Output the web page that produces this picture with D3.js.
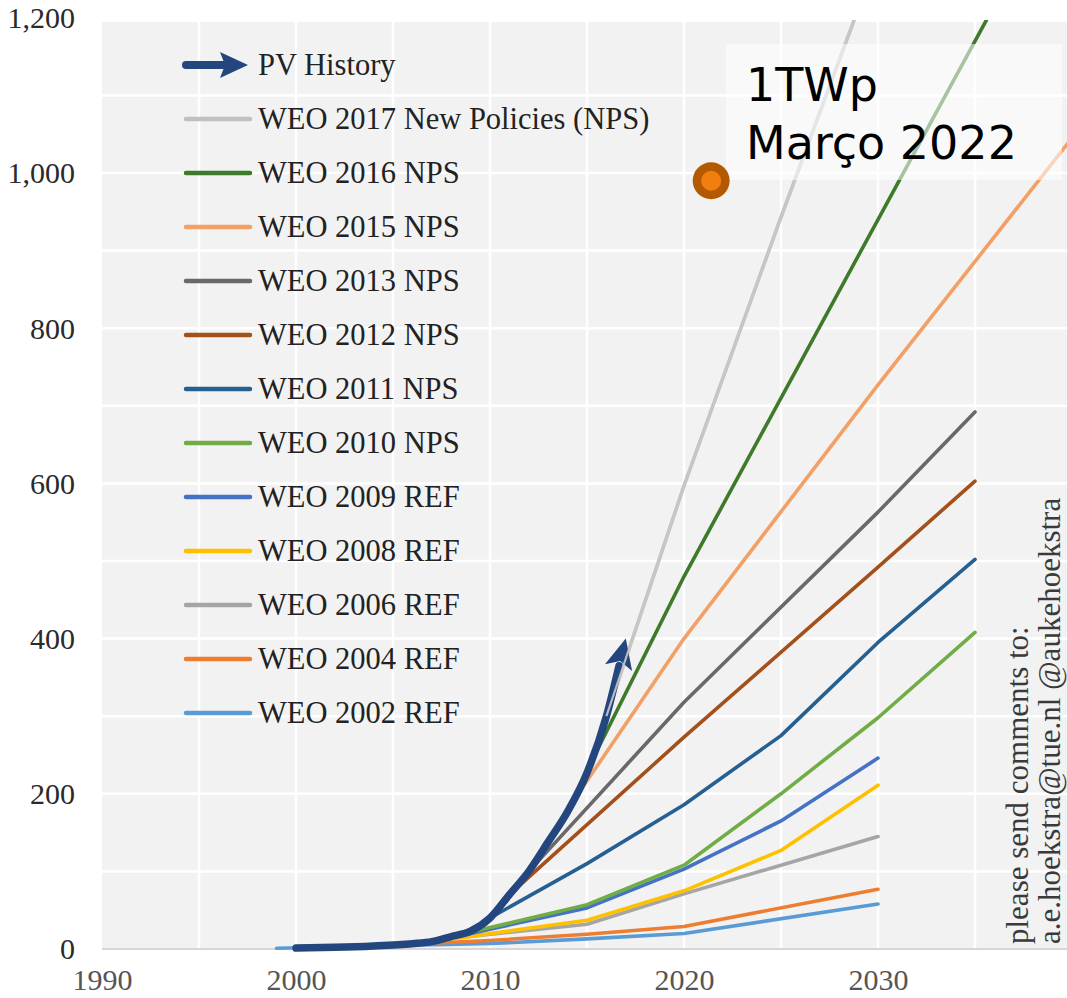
<!DOCTYPE html>
<html>
<head>
<meta charset="utf-8">
<script src="https://cdn.jsdelivr.net/npm/d3@7"></script>
<style>
  body { margin: 0; background: #fff; }
  svg { display: block; }
</style>
</head>
<body>
<svg id="chart" width="1067" height="998"></svg>
<script>
// x ticks / y ticks
var yearTicks = [1990, 2000, 2010, 2020, 2030];
var valueTicks = [0, 200, 400, 600, 800, 1000, 1200];

// PV installed, GW
var pvHistory = [[2000, 1.2], [2002, 2.1], [2004, 3.9], [2006, 6.9], [2007, 9.5], [2008, 16], [2009, 23],
  [2010, 40], [2011, 70], [2012, 100], [2013, 138], [2014, 177], [2015, 227], [2016, 300], [2017, 400]];

var weo2017 = [[2016, 300], [2020, 597], [2025, 943], [2030, 1280], [2040, 1950]];
var weo2016 = [[2015, 230], [2020, 480], [2030, 940], [2040, 1400]];
var weo2015 = [[2014, 180], [2020, 400], [2030, 727], [2040, 1045]];
var weo2013 = [[2012, 100], [2020, 318], [2030, 563], [2035, 692]];
var weo2012 = [[2011, 70], [2020, 273], [2030, 492], [2035, 603]];
var weo2011 = [[2010, 40], [2015, 110], [2020, 186], [2025, 275], [2030, 395], [2035, 502]];
var weo2010 = [[2008, 16], [2015, 57], [2020, 108], [2025, 200], [2030, 298], [2035, 408]];
var weo2009 = [[2007, 9], [2015, 53], [2020, 103], [2025, 165], [2030, 246]];
var weo2008 = [[2006, 6], [2015, 37], [2020, 75], [2025, 127], [2030, 211]];
var weo2006 = [[2004, 3], [2015, 32], [2020, 71], [2030, 145]];
var weo2004 = [[2002, 2], [2010, 11], [2015, 19], [2020, 29], [2030, 77]];
var weo2002 = [[1999, 1], [2010, 7], [2015, 13], [2020, 20], [2030, 58]];

var seriesNames = ["WEO 2017 New Policies (NPS)", "WEO 2016 NPS", "WEO 2015 NPS", "WEO 2013 NPS",
  "WEO 2012 NPS", "WEO 2011 NPS", "WEO 2010 NPS", "WEO 2009 REF", "WEO 2008 REF",
  "WEO 2006 REF", "WEO 2004 REF", "WEO 2002 REF"];
var seriesValues = [weo2017, weo2016, weo2015, weo2013, weo2012, weo2011, weo2010,
  weo2009, weo2008, weo2006, weo2004, weo2002];
var seriesColors = ["#c0c0c0", "#3d7a2a", "#f2a066", "#696969", "#a3501b", "#265f91", "#70ad47",
  "#4472c4", "#ffc000", "#a5a5a5", "#ed7d31", "#5b9bd5"];

var milestone = [2021.4, 990];

var svg = d3.select("#chart");
var pLeft = 102, pRight = 1067, pTop = 20, pBottom = 949;
var pvColor = "#24467f";

var x = d3.scaleLinear().domain([1990, 2040]).range([pLeft, pLeft + 50 * 19.4]);
var y = d3.scaleLinear().domain([0, 1200]).range([pBottom, pBottom - 1200 * 0.776]);

var defs = svg.append("defs");
defs.append("clipPath").attr("id", "plotclip")
  .append("rect").attr("x", pLeft).attr("y", pTop).attr("width", pRight - pLeft).attr("height", pBottom - pTop + 4);

defs.append("marker").attr("id", "legendhead")
  .attr("markerUnits", "userSpaceOnUse")
  .attr("viewBox", "0 -13 28 26")
  .attr("refX", 4).attr("refY", 0)
  .attr("markerWidth", 28).attr("markerHeight", 26)
  .attr("orient", "auto")
  .append("path").attr("d", "M0,-13L28,0L0,13L5,0Z").attr("fill", pvColor);

// plot background
svg.append("rect").attr("x", pLeft).attr("y", pTop + 2).attr("width", pRight - pLeft).attr("height", pBottom - pTop - 2)
  .attr("fill", "#f2f2f2");

// grid
var g = svg.append("g");
g.selectAll(".hg").data(d3.range(100, 1201, 100)).enter().append("line")
  .attr("x1", pLeft).attr("x2", pRight).attr("y1", function(d) { return y(d); }).attr("y2", function(d) { return y(d); })
  .attr("stroke", "#fff").attr("stroke-width", 2.5);
g.selectAll(".vg").data(d3.range(1995, 2040, 5)).enter().append("line")
  .attr("x1", function(d) { return x(d); }).attr("x2", function(d) { return x(d); })
  .attr("y1", pTop + 2).attr("y2", pBottom)
  .attr("stroke", "#fff").attr("stroke-width", 2.5);
g.append("line").attr("x1", pLeft).attr("x2", pRight).attr("y1", y(0)).attr("y2", y(0))
  .attr("stroke", "#d6d6d6").attr("stroke-width", 2);

// axes
var yAxis = svg.append("g").attr("transform", "translate(" + (pLeft - 27) + ",0)")
  .call(d3.axisLeft(y).tickValues(valueTicks).tickFormat(d3.format(",")).tickSize(0).tickPadding(0));
yAxis.select(".domain").remove();
yAxis.selectAll("text").attr("font-family", "Liberation Serif").attr("font-size", 30).attr("fill", "#2a2a2a")
  .attr("dy", "0.33em");

var xAxis = svg.append("g").attr("transform", "translate(0," + (pBottom + 20) + ")")
  .call(d3.axisBottom(x).tickValues(yearTicks).tickFormat(d3.format("d")).tickSize(0).tickPadding(0));
xAxis.select(".domain").remove();
xAxis.selectAll("text").attr("font-family", "Liberation Serif").attr("font-size", 30).attr("fill", "#555")
  .attr("dy", "0.71em");

// lines
var line = d3.line().x(function(d) { return x(d[0]); }).y(function(d) { return y(d[1]); });
var lines = svg.append("g").attr("clip-path", "url(#plotclip)");

for (var i = seriesValues.length - 1; i >= 0; i--) {
  lines.append("path").datum(seriesValues[i]).attr("d", line)
    .attr("fill", "none").attr("stroke", seriesColors[i]).attr("stroke-width", 3.6)
    .attr("stroke-linejoin", "round").attr("stroke-linecap", "round");
}

// PV history with arrowhead at the last point
var last = pvHistory[pvHistory.length - 1], prev = pvHistory[pvHistory.length - 2];
var tipX = x(last[0]), tipY = y(last[1]);
var ang = Math.atan2(tipY - y(prev[1]), tipX - x(prev[0])) * 180 / Math.PI;
var stemEnd = [last[0] - 0.35, prev[1] + (last[1] - prev[1]) * 0.65];

lines.append("path").datum(pvHistory.slice(0, -1).concat([stemEnd]))
  .attr("d", d3.line().curve(d3.curveMonotoneX).x(function(d) { return x(d[0]); }).y(function(d) { return y(d[1]); }))
  .attr("fill", "none").attr("stroke", pvColor).attr("stroke-width", 7.5)
  .attr("stroke-linecap", "round");
lines.append("path")
  .attr("transform", "translate(" + tipX + "," + tipY + ") rotate(" + ang + ")")
  .attr("d", "M0,0L-30,-14L-23,0L-30,14Z")
  .attr("fill", pvColor);

// thin 2017 overlay on the arrow, as in the original
lines.append("path").datum(weo2017).attr("d", line)
  .attr("fill", "none").attr("stroke", "#c8c8c8").attr("stroke-width", 2.2).attr("opacity", 0.9);

// legend
var leg = svg.append("g");
leg.append("line").attr("x1", 186).attr("x2", 224).attr("y1", 65).attr("y2", 65)
  .attr("stroke", pvColor).attr("stroke-width", 8).attr("stroke-linecap", "round")
  .attr("marker-end", "url(#legendhead)");
leg.append("text").attr("x", 258).attr("y", 65).attr("dy", "0.33em").text("PV History")
  .attr("font-family", "Liberation Serif").attr("font-size", 30.5).attr("fill", "#222");

var rows = leg.selectAll(".row").data(seriesNames).enter().append("g")
  .attr("transform", function(d, i) { return "translate(0," + (119 + i * 54) + ")"; });
rows.append("line").attr("x1", 186).attr("x2", 250)
  .attr("stroke", function(d, i) { return seriesColors[i]; }).attr("stroke-width", 4.5).attr("stroke-linecap", "round");
rows.append("text").attr("x", 258).attr("dy", "0.33em").text(function(d) { return d; })
  .attr("font-family", "Liberation Serif").attr("font-size", 30.5).attr("fill", "#222");

// note on the side
var note = svg.append("g").attr("font-family", "Liberation Serif").attr("font-size", 31).attr("fill", "#3a3a3a");
note.append("text").attr("transform", "translate(1028,944) rotate(-90)").text("please send comments to:");
note.append("text").attr("transform", "translate(1060,944) rotate(-90)").text("a.e.hoekstra@tue.nl @aukehoekstra");

// milestone annotation
svg.append("rect").attr("x", 726).attr("y", 44).attr("width", 336).attr("height", 136)
  .attr("fill", "#fff").attr("opacity", 0.55);
var ann = svg.append("g").attr("font-family", "DejaVu Sans").attr("font-size", 46).attr("fill", "#000");
ann.append("text").attr("x", 746).attr("y", 101).text("1TWp");
ann.append("text").attr("x", 746).attr("y", 159).text("Março 2022");

svg.append("circle").attr("cx", x(milestone[0])).attr("cy", y(milestone[1])).attr("r", 18.5)
  .attr("fill", "#b35a00");
svg.append("circle").attr("cx", x(milestone[0])).attr("cy", y(milestone[1])).attr("r", 10)
  .attr("fill", "#f07f10");
</script>
</body>
</html>
